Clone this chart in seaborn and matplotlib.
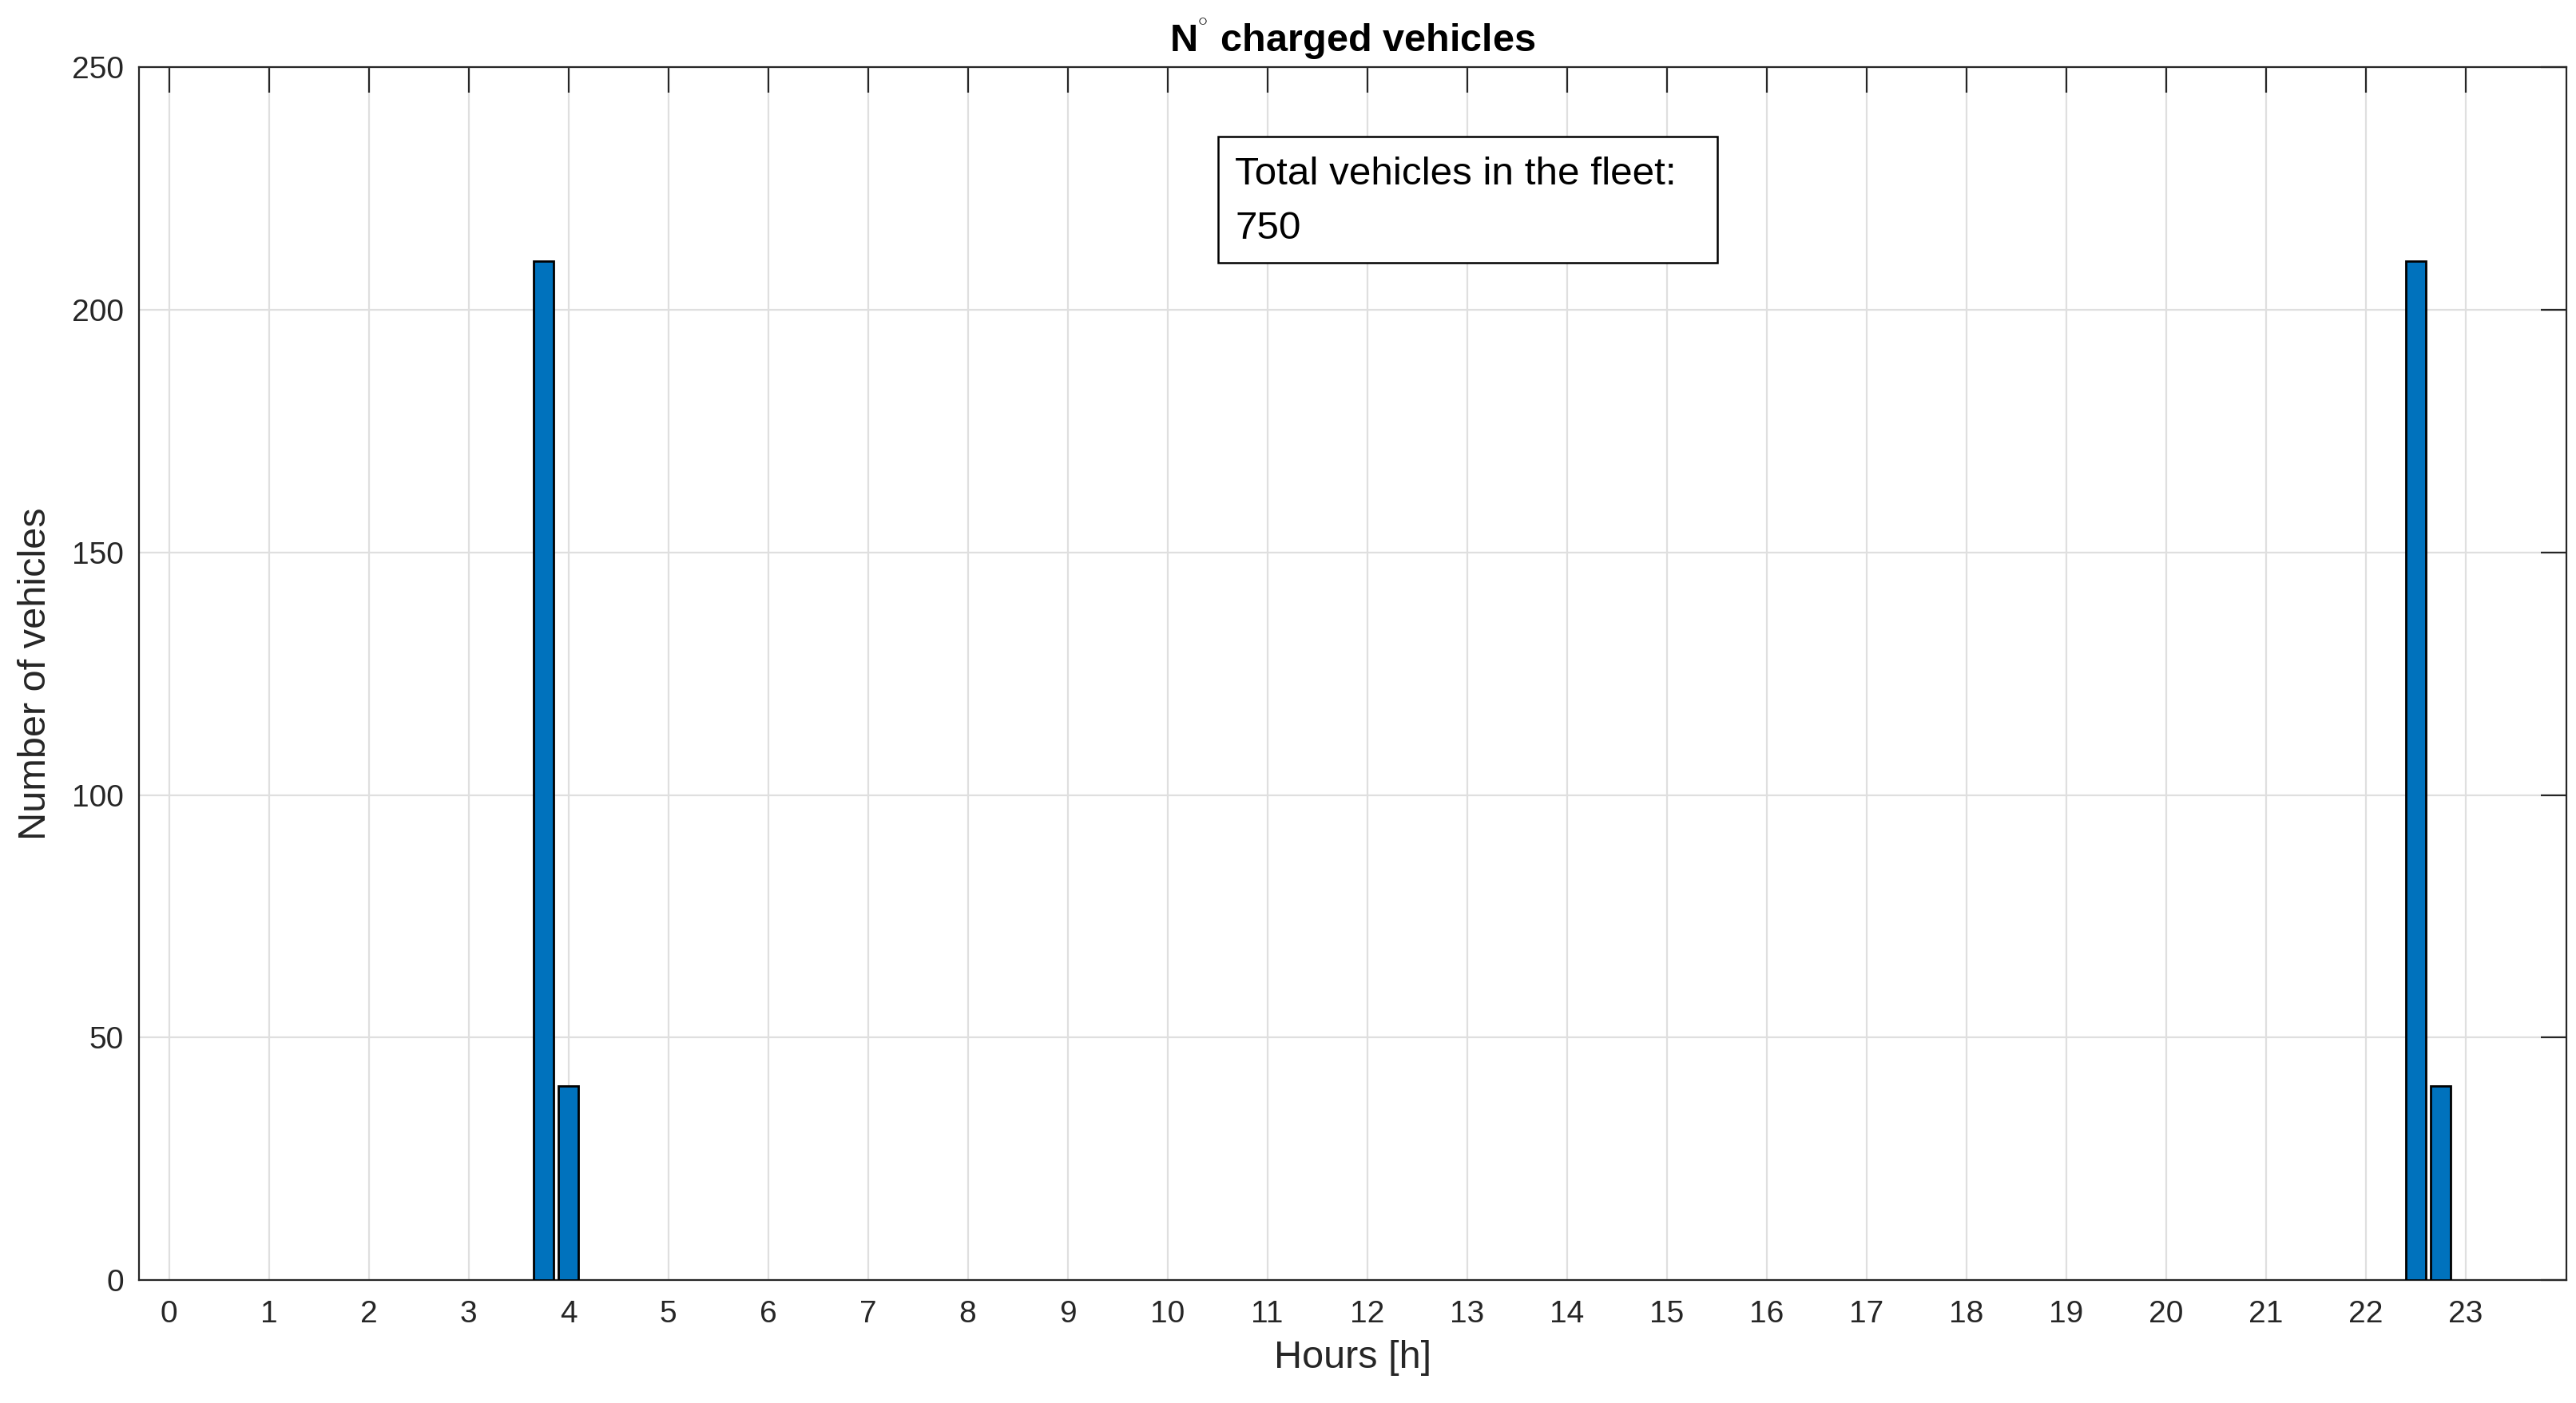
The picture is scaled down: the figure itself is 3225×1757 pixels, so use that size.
import numpy as np
import pandas as pd
import matplotlib
matplotlib.use('Agg')
import matplotlib.pyplot as plt
import seaborn as sns
from matplotlib.patches import Rectangle

# charging slots (15 min resolution), only non-empty ones
hours = [3.75, 4.0, 22.5, 22.75]
n_vehicles = [210, 40, 210, 40]
x_ticks = list(range(0, 24))
y_ticks = [0, 50, 100, 150, 200, 250]
fleet_size = 750

sns.set_style("white")
plt.rcParams['font.family'] = ['Liberation Sans', 'DejaVu Sans']
plt.rcParams['mathtext.fontset'] = 'custom'
plt.rcParams['mathtext.rm'] = 'Liberation Sans'

ink = '#262626'

df = pd.DataFrame({"hour": hours, "vehicles": n_vehicles})

fig = plt.figure(figsize=(16.125, 8.785), dpi=200)
ax = fig.add_axes([0.054, 0.0875, 0.9422, 0.8647])

sns.barplot(data=df, x="hour", y="vehicles", native_scale=True, width=0.8,
            color='#0072BD', saturation=1, edgecolor='black', linewidth=1.0,
            errorbar=None, ax=ax, zorder=3)

ax.set_xlim(-0.3, 24.01)
ax.set_ylim(0, 250)
ax.set_xticks(x_ticks)
ax.set_xticklabels([str(t) for t in x_ticks])
ax.set_yticks(y_ticks)

ax.grid(True, color='#dfdfdf', linewidth=0.8)
ax.set_axisbelow(True)

ax.tick_params(direction='in', top=True, right=True, length=11.5, width=0.8,
               color=ink, labelcolor=ink, labelsize=14)
ax.tick_params(axis='x', pad=9)
ax.tick_params(axis='y', pad=7)
for s in ax.spines.values():
    s.set_color(ink)
    s.set_linewidth(0.8)

ax.set_xlabel("Hours [h]", fontsize=17.5, color=ink, labelpad=5)
ax.set_ylabel("Number of vehicles", fontsize=17.5, color=ink, labelpad=8)
ax.set_title(r"N$^{^{\circ}}$ charged vehicles", fontsize=17.5, fontweight='bold',
             color='black', pad=7)

# annotation box
ax.add_patch(Rectangle((0.4445, 0.839), 0.2058, 0.104, transform=ax.transAxes,
                       facecolor='white', edgecolor='black', linewidth=0.9,
                       zorder=5))
ax.text(0.4515, 0.926, f"Total vehicles in the fleet:\n{fleet_size}",
        transform=ax.transAxes, ha='left', va='top', fontsize=17.8,
        color='black', linespacing=1.65, zorder=6)

fig.savefig("out.png", dpi=200)
